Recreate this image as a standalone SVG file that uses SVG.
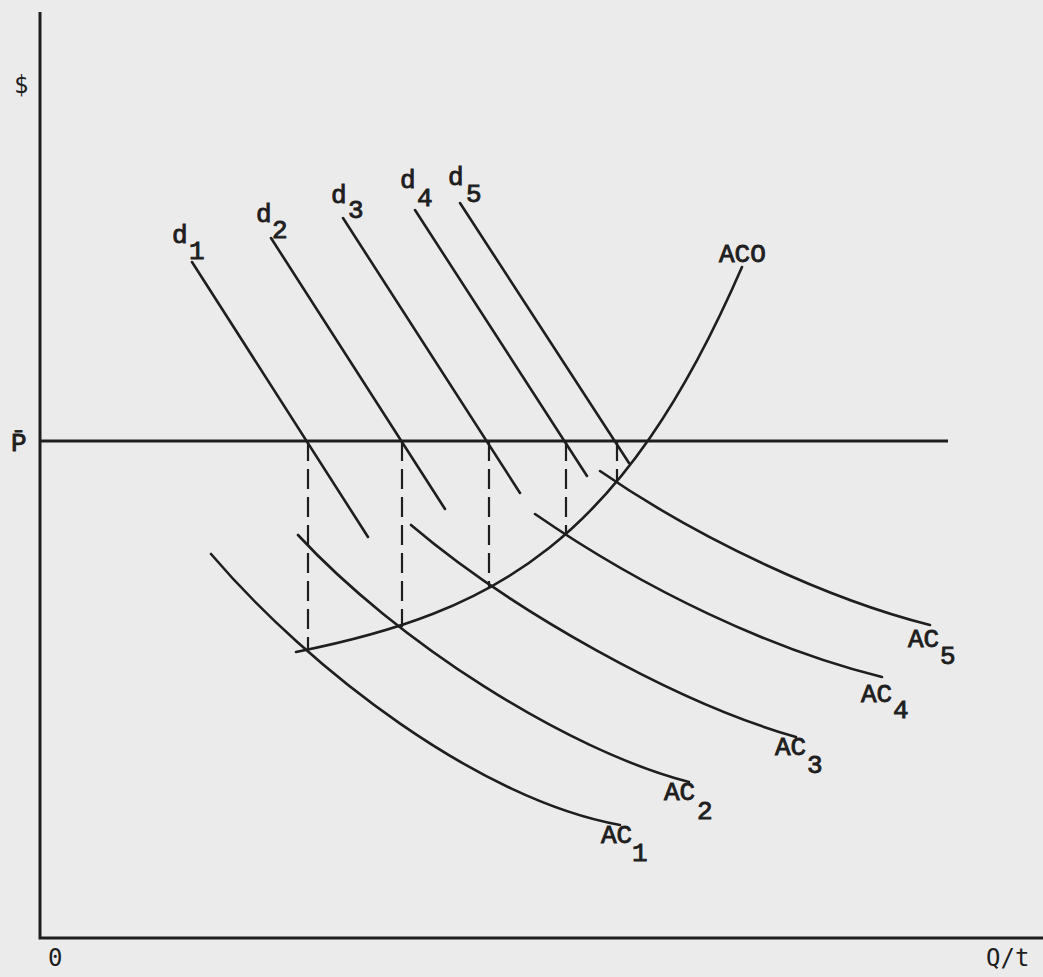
<svg xmlns="http://www.w3.org/2000/svg" width="1043" height="977" viewBox="0 0 1043 977">
<style>
.ln{fill:none;stroke:#1e1e1e;stroke-width:2.6;stroke-linecap:round}
.ax{fill:none;stroke:#1e1e1e;stroke-width:3}
.ds{fill:none;stroke:#1e1e1e;stroke-width:2.2;stroke-dasharray:20 8}
.t{font-family:"Liberation Mono","Courier New",monospace;font-size:26px;fill:#1e1e1e;stroke:#1e1e1e;stroke-width:0.9}
.s{font-family:"DejaVu Sans Mono","Liberation Mono",monospace;font-size:24px;fill:#1e1e1e}
</style>
<rect width="1043" height="977" fill="#ebebeb"/>
<g id="axes">
<path class="ax" d="M40,12 V938 H1043"/>
<text class="s" x="14" y="93">$</text>
<text class="s" x="48" y="966">0</text>
<text class="s" x="986" y="966">Q/t</text>
</g>
<g id="price-line">
<path class="ax" d="M40,441 H948"/>
<text class="t" x="11" y="451">P̄</text>
</g>
<g id="connectors">
<path class="ds" d="M308,441 V650"/>
<path class="ds" d="M402,441 V627"/>
<path class="ds" d="M489,441 V587"/>
<path class="ds" d="M566,441 V533"/>
<path class="ds" d="M617,441 V483"/>
</g>
<g id="d1"><path class="ln" d="M192,262 L368,537"/><text class="t" x="172" y="243">d</text><text class="t" x="189" y="259">1</text></g>
<g id="d2"><path class="ln" d="M271,238 L445,509"/><text class="t" x="256" y="222">d</text><text class="t" x="272" y="238">2</text></g>
<g id="d3"><path class="ln" d="M343,218 L520,493"/><text class="t" x="331" y="203">d</text><text class="t" x="348" y="218">3</text></g>
<g id="d4"><path class="ln" d="M415,210 L587,476"/><text class="t" x="400" y="188">d</text><text class="t" x="417" y="206">4</text></g>
<g id="d5"><path class="ln" d="M460,203 L629,463"/><text class="t" x="448" y="185">d</text><text class="t" x="466" y="202">5</text></g>
<g id="ACO"><path class="ln" d="M296,652 C496,612 622,543 742,267"/><text class="t" x="719" y="262">ACO</text></g>
<g id="AC1"><path class="ln" d="M211,554 C310,670 480,800 620,825"/><text class="t" x="601" y="843">AC</text><text class="t" x="632" y="861">1</text></g>
<g id="AC2"><path class="ln" d="M298,535 C395,640 565,750 689,782"/><text class="t" x="664" y="800">AC</text><text class="t" x="697" y="819">2</text></g>
<g id="AC3"><path class="ln" d="M411,525 C511,610 676,703 796,737"/><text class="t" x="775" y="755">AC</text><text class="t" x="807" y="773">3</text></g>
<g id="AC4"><path class="ln" d="M535,514 C645,590 772,650 882,677"/><text class="t" x="861" y="702">AC</text><text class="t" x="893" y="718">4</text></g>
<g id="AC5"><path class="ln" d="M600,471 C700,540 830,600 930,625"/><text class="t" x="908" y="647">AC</text><text class="t" x="940" y="664">5</text></g>
</svg>
